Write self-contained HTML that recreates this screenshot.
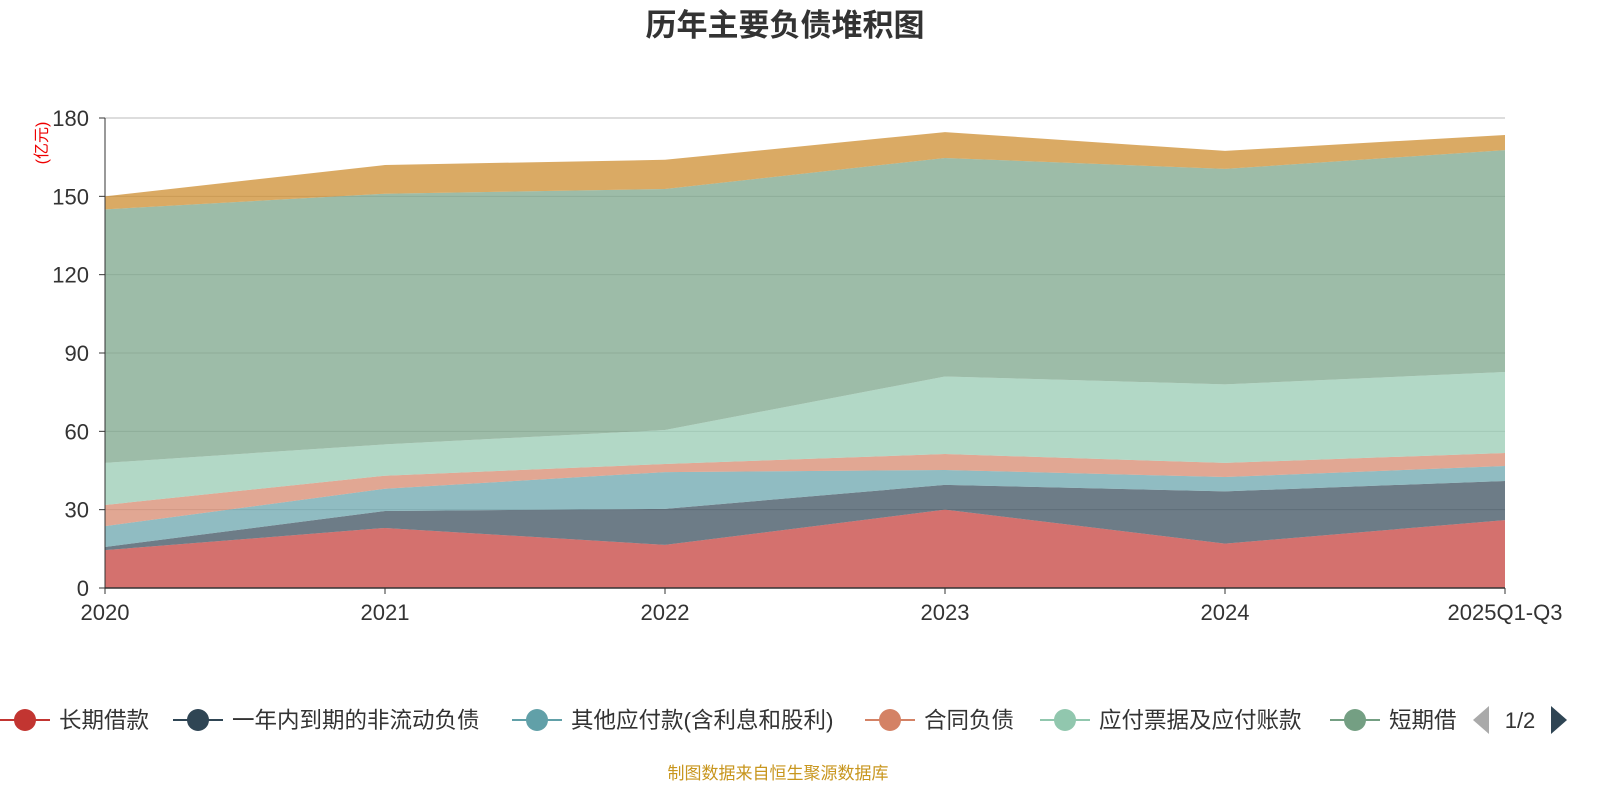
<!DOCTYPE html>
<html><head><meta charset="utf-8"><style>
body{margin:0;background:#fff;width:1600px;height:800px;overflow:hidden;font-family:"Liberation Sans","Noto Sans CJK SC",sans-serif}
</style></head><body>
<svg id="c" width="1600" height="800" xmlns="http://www.w3.org/2000/svg">
<text x="785" y="36" text-anchor="middle" font-size="31" font-weight="bold" fill="#333" font-family="Liberation Sans, Noto Sans CJK SC, sans-serif">历年主要负债堆积图</text>
<text transform="translate(47,143) rotate(-90)" text-anchor="middle" font-size="16" fill="#e00" font-family="Liberation Sans, Noto Sans CJK SC, sans-serif">(亿元)</text>
<g id="grid"></g><g id="areas"></g><g id="axes"></g><g id="legend"></g>
<text x="778" y="779" text-anchor="middle" font-size="17" fill="#c8961e" font-family="Liberation Sans, Noto Sans CJK SC, sans-serif">制图数据来自恒生聚源数据库</text>
</svg>
<script>
const categories=["2020","2021","2022","2023","2024","2025Q1-Q3"];
const seriesNames=["长期借款","一年内到期的非流动负债","其他应付款(含利息和股利)","合同负债","应付票据及应付账款","短期借款","其他"];
const s1=[14.5,23,16.5,30,17,26];
const s2=[1.2,6.5,13.8,9.5,20,15];
const s3=[8,8.5,14.1,5.7,5.5,5.7];
const s4=[8.1,5,3.1,6.1,5.4,5];
const s5=[16.1,12,13,29.7,30.1,31];
const s6=[97.1,96,92.3,83.7,82.5,85];
const s7=[5,11,11.2,9.9,6.9,5.8];
const yTicks=[0,30,60,90,120,150,180];
const series=[s1,s2,s3,s4,s5,s6,s7];
const colors=["#c23531","#2f4554","#61a0a8","#d48265","#91c7ae","#749f83","#ca8622"];
const NS="http://www.w3.org/2000/svg";
const X0=105,X1=1505,Y0=588,Y1=118,YMAX=180;
const xs=i=>X0+(X1-X0)*i/(categories.length-1);
const ys=v=>Y0-(Y0-Y1)*v/YMAX;
function mk(t,a,p){const e=document.createElementNS(NS,t);for(const k in a)e.setAttribute(k,a[k]);p.appendChild(e);return e;}
const grid=document.getElementById('grid'),areas=document.getElementById('areas'),axes=document.getElementById('axes'),legend=document.getElementById('legend');
yTicks.forEach(t=>{
 if(t>0){const l=mk('line',{x1:X0,x2:X1,y1:ys(t),y2:ys(t),stroke:t===180?'#bbb':'#ccc','stroke-width':1},grid);
 
 }
 const tx=mk('text',{x:X0-16,y:ys(t)+8,'text-anchor':'end','font-size':22,fill:'#333'},axes);tx.textContent=t;
 
 
 mk('line',{x1:X0-6,x2:X0,y1:ys(t),y2:ys(t),stroke:'#333'},axes);
});
let base=categories.map(()=>0);
series.forEach((s,k)=>{
 const top=s.map((v,i)=>base[i]+v);
 let d='M'+top.map((v,i)=>xs(i)+','+ys(v)).join('L');
 for(let i=categories.length-1;i>=0;i--)d+='L'+xs(i)+','+ys(base[i]);
 const p=mk('path',{d:d+'Z',fill:colors[k],'fill-opacity':0.7,stroke:'none'},areas);
 
 
 base=top;
});
mk('line',{x1:X0,x2:X1,y1:Y0,y2:Y0,stroke:'#333','stroke-width':1.5},axes);
mk('line',{x1:X0,x2:X0,y1:Y0,y2:Y1,stroke:'#333','stroke-width':1},axes);
categories.forEach((c,i)=>{
 mk('line',{x1:xs(i),x2:xs(i),y1:Y0,y2:Y0+6,stroke:'#333'},axes);
 const t=mk('text',{x:xs(i),y:Y0+32,'text-anchor':'middle','font-size':22,fill:'#333'},axes);t.textContent=c;
 
 
});
const lx=[25,198,537,890,1065,1355];
lx.forEach((x,k)=>{
 const g=mk('g',{},legend);
 
 
 mk('line',{x1:x-25,x2:x+25,y1:720,y2:720,stroke:colors[k],'stroke-width':2},g);
 mk('circle',{cx:x,cy:720,r:11,fill:colors[k]},g);
 const t=mk('text',{x:x+34,y:728,'font-size':22.5,fill:'#333'},g);
 t.textContent=k===5?'短期借':seriesNames[k];
});
const pl=mk('path',{d:'M1489,706L1473,720L1489,734Z',fill:'#aaa'},legend);


const pt=mk('text',{x:1520,y:728,'text-anchor':'middle','font-size':22,fill:'#333'},legend);pt.textContent='1/2';


const pn=mk('path',{d:'M1551,706L1567,720L1551,734Z',fill:'#2f4554'},legend);


</script>
</body></html>
